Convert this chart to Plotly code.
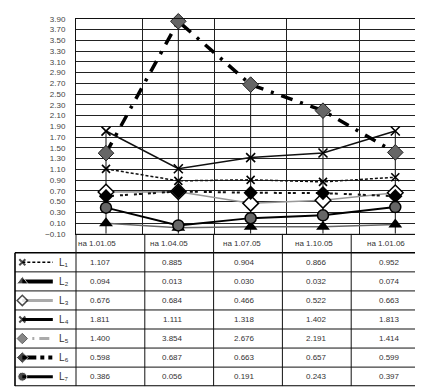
import plotly.graph_objects as go

# ---------------- data ----------------
categories = ["на 1.01.05", "на 1.04.05", "на 1.07.05", "на 1.10.05", "на 1.01.06"]
series_labels = ["L₁", "L₂", "L₃", "L₄", "L₅", "L₆", "L₇"]
L1 = [1.107, 0.885, 0.904, 0.866, 0.952]
L2 = [0.094, 0.013, 0.030, 0.032, 0.074]
L3 = [0.676, 0.684, 0.466, 0.522, 0.663]
L4 = [1.811, 1.111, 1.318, 1.402, 1.813]
L5 = [1.400, 3.854, 2.676, 2.191, 1.414]
L6 = [0.598, 0.687, 0.663, 0.657, 0.599]
L7 = [0.386, 0.056, 0.191, 0.243, 0.397]
series_values = [L1, L2, L3, L4, L5, L6, L7]

# ---------------- layout geometry (pixels) ----------------
W, H = 423, 390
PLOT_L, PLOT_R, PLOT_T, PLOT_B = 68, 412, 7, 227
TAB_L, TAB_B = 7, 383
Y_MIN, Y_MAX = -0.1, 3.9


def px(x):
    return x / W


def py(y):
    return 1 - y / H


FONT = "Liberation Sans, Arial, sans-serif"

# chart styles
chart_styles = [
    dict(line=dict(color="#111", width=1.5, dash="3px,2px"),
         marker=dict(symbol="x-thin", size=8, line=dict(color="#000", width=1.6))),
    dict(line=dict(color="#666", width=1.5),
         marker=dict(symbol="triangle-up", size=12, color="#000")),
    dict(line=dict(color="#999", width=1.5),
         marker=dict(symbol="diamond", size=12, color="#fff", line=dict(color="#000", width=1.5))),
    dict(line=dict(color="#111", width=1.6),
         marker=dict(symbol="x-thin", size=9, line=dict(color="#000", width=1.6))),
    dict(line=dict(color="#000", width=3.5, dash="12px,8px,3px,8px"),
         marker=dict(symbol="diamond", size=12, color="#666", line=dict(color="#222", width=1))),
    dict(line=dict(color="#111", width=2, dash="3px,2px,3px,6px"),
         marker=dict(symbol="diamond", size=11, color="#000")),
    dict(line=dict(color="#000", width=2),
         marker=dict(symbol="circle", size=11, color="#666", line=dict(color="#000", width=1.5))),
]

# legend-key styles (inside the data table)
key_styles = [
    dict(line=dict(color="#000", width=1.5, dash="3px,2px"),
         marker=dict(symbol="x-thin", size=6, line=dict(color="#000", width=2))),
    dict(line=dict(color="#000", width=4),
         marker=dict(symbol="triangle-up", size=10, color="#000")),
    dict(line=dict(color="#aaa", width=3),
         marker=dict(symbol="diamond", size=8, color="#fff", line=dict(color="#000", width=1.5))),
    dict(line=dict(color="#000", width=3),
         marker=dict(symbol="x-thin", size=6, line=dict(color="#000", width=2))),
    dict(line=dict(color="#aaa", width=3, dash="0px,10px,2px,5px,10px,40px"),
         marker=dict(symbol="diamond", size=8, color="#555", line=dict(color="#222", width=1))),
    dict(line=dict(color="#000", width=4, dash="14px,4px,4px,4px,4px,20px"),
         marker=dict(symbol="diamond", size=9, color="#000")),
    dict(line=dict(color="#000", width=3),
         marker=dict(symbol="circle", size=9, color="#000")),
]

fig = go.Figure()

# drop lines from the highest value of each category to the axis bottom
drop_x, drop_y = [], []
for i, c in enumerate(categories):
    top = max(s[i] for s in series_values)
    drop_x += [c, c, None]
    drop_y += [top, Y_MIN, None]
fig.add_trace(go.Scatter(x=drop_x, y=drop_y, mode="lines",
                         line=dict(color="#111", width=1), hoverinfo="skip",
                         showlegend=False, xaxis="x", yaxis="y"))

draw_order = [2, 1, 0, 5, 6, 3, 4]
for k in draw_order:
    st = chart_styles[k]
    fig.add_trace(go.Scatter(x=categories, y=series_values[k], mode="lines+markers",
                             line=st["line"], marker=st["marker"],
                             name=series_labels[k], showlegend=False,
                             xaxis="x", yaxis="y", cliponaxis=False))

# legend keys in the first table column
for k in range(len(series_values)):
    st = key_styles[k]
    mk = dict(st["marker"])
    mk["size"] = [mk["size"], 0]
    fig.add_trace(go.Scatter(x=[0.12, 0.62], y=[k + 0.5, k + 0.5], mode="lines+markers",
                             line=st["line"], marker=mk, showlegend=False,
                             hoverinfo="skip", xaxis="x2", yaxis="y2", cliponaxis=False))

annotations = []
# header row (category labels)
for c in categories:
    annotations.append(dict(x=c, y=-0.5, xref="x", yref="y2", text=c, showarrow=False,
                            xshift=-9, font=dict(family=FONT, size=8, color="#333")))
# values
for k, vals in enumerate(series_values):
    for c, v in zip(categories, vals):
        annotations.append(dict(x=c, y=k + 0.5, xref="x", yref="y2", text=f"{v:.3f}",
                                showarrow=False, xshift=-6,
                                font=dict(family=FONT, size=8, color="#333")))
    annotations.append(dict(x=0.80, y=k + 0.5, xref="x2", yref="y2",
                            text=series_labels[k], showarrow=False,
                            font=dict(family=FONT, size=10, color="#333")))

# table grid
shapes = []
lc = dict(color="#111", width=1)
lc_out = dict(color="#000", width=1.6)
n_rows = len(series_values)
shapes.append(dict(type="line", xref="paper", yref="y2", x0=px(PLOT_L), x1=px(PLOT_R + 1),
                   y0=-1, y1=-1, line=lc))
for r in range(0, n_rows + 1):
    shapes.append(dict(type="line", xref="paper", yref="y2", x0=px(TAB_L), x1=px(PLOT_R + 1),
                       y0=r, y1=r, line=lc_out if r in (0, n_rows) else lc))
ncat = len(categories)
for j in range(ncat + 1):
    xx = PLOT_L + (PLOT_R - PLOT_L) * j / ncat
    shapes.append(dict(type="line", xref="paper", yref="y2", x0=px(xx), x1=px(xx),
                       y0=-1, y1=n_rows, line=lc_out if j == ncat else lc))
shapes.append(dict(type="line", xref="paper", yref="y2", x0=px(TAB_L), x1=px(TAB_L),
                   y0=0, y1=n_rows, line=lc_out))

fig.update_layout(
    width=W, height=H,
    margin=dict(l=0, r=0, t=0, b=0),
    paper_bgcolor="white", plot_bgcolor="white",
    showlegend=False,
    font=dict(family=FONT, color="#333"),
    xaxis=dict(domain=[px(PLOT_L), px(PLOT_R)], type="category", tickson="boundaries",
               showgrid=True, gridcolor="#222", gridwidth=1, showticklabels=False,
               ticks="", showline=True, mirror=True, linecolor="#111", linewidth=1,
               zeroline=False, anchor="y", fixedrange=True),
    yaxis=dict(domain=[py(PLOT_B), py(PLOT_T)], range=[Y_MIN, Y_MAX], tick0=Y_MIN, dtick=0.2,
               tickformat=".2f", showgrid=True, gridcolor="#222", gridwidth=1,
               showline=True, mirror=True, linecolor="#111", linewidth=1, zeroline=False,
               ticks="", ticklabelstandoff=8,
               tickfont=dict(family=FONT, size=8, color="#444"), anchor="x"),
    xaxis2=dict(domain=[px(TAB_L), px(PLOT_L)], range=[0, 1], anchor="y2",
                showgrid=False, showticklabels=False, zeroline=False, showline=False),
    yaxis2=dict(domain=[py(TAB_B), py(PLOT_B)], range=[n_rows, -1], anchor="x2",
                showgrid=False, showticklabels=False, zeroline=False, showline=False),
    annotations=annotations,
    shapes=shapes,
)

fig.write_html("out.html")
